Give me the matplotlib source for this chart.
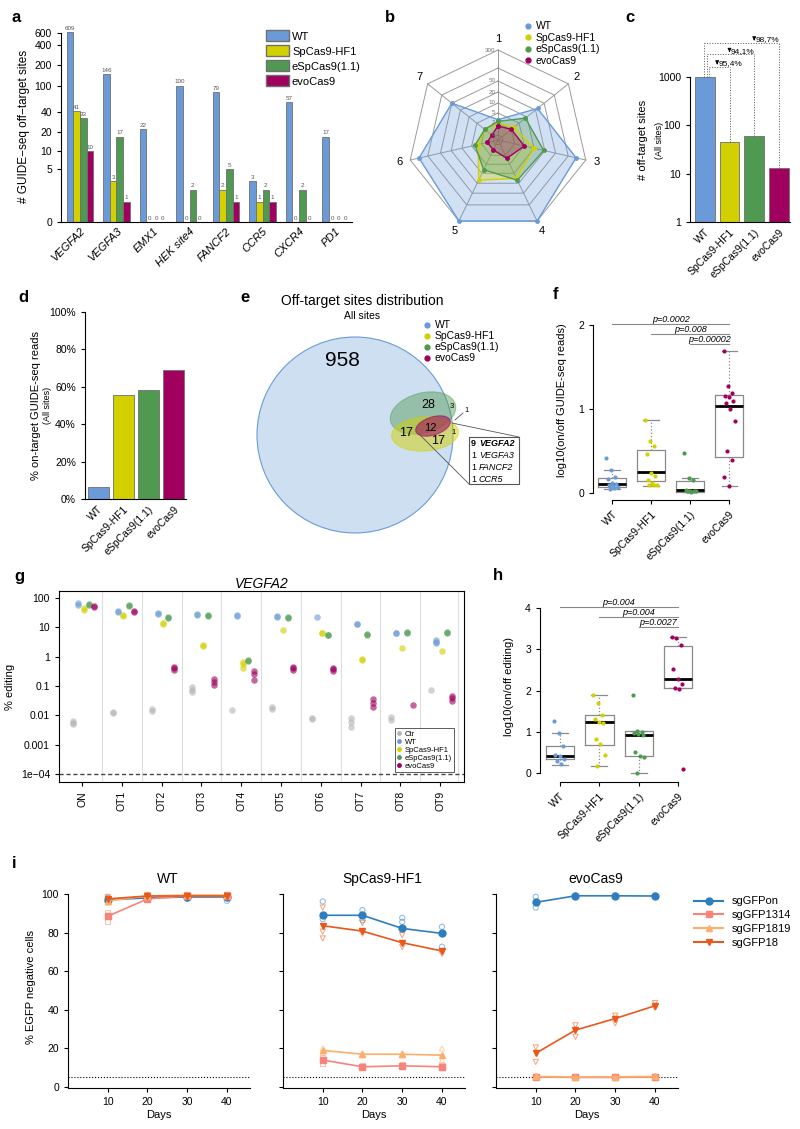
import numpy as np
import matplotlib
matplotlib.use('Agg')
import matplotlib.pyplot as plt
from matplotlib.patches import Ellipse, Circle, Patch, Rectangle
from matplotlib.lines import Line2D
from matplotlib.ticker import NullLocator

plt.rcParams['font.family'] = ['Liberation Sans', 'DejaVu Sans']
plt.rcParams['font.size'] = 7.5
plt.rcParams['axes.linewidth'] = 0.8
plt.rcParams['xtick.major.width'] = 0.8
plt.rcParams['ytick.major.width'] = 0.8
plt.rcParams['xtick.major.size'] = 3
plt.rcParams['ytick.major.size'] = 3

# ---------------- data ----------------
variants = ['WT', 'SpCas9-HF1', 'eSpCas9(1.1)', 'evoCas9']
colors = ['#6a9bd8', '#d2d000', '#4f9a50', '#a0005e']
edge = '#6f6f6f'

# a
targets = ['VEGFA2', 'VEGFA3', 'EMX1', 'HEK site4', 'FANCF2', 'CCR5', 'CXCR4', 'PD1']
a_wt = [609, 146, 22, 100, 79, 3, 57, 17]
a_hf = [41, 3, 0, 0, 2, 1, 0, 0]
a_e = [33, 17, 0, 2, 5, 2, 2, 0]
a_evo = [10, 1, 0, 0, 1, 1, 0, 0]
a_ticks = [0, 5, 10, 20, 40, 100, 200, 400, 600]

# b (radar, 7 mismatch classes)
b_axes = ['1', '2', '3', '4', '5', '6', '7']
b_wt = [3, 27, 190, 300, 300, 200, 50]
b_hf = [2, 3, 10, 15, 17, 3, 2]
b_e = [2.5, 9, 19, 17, 8, 4, 2]
b_evo = [1.5, 2, 5, 3, 1, 1, 0.5]
ring_vals = [0, 2, 5, 10, 20, 50, 100, 300]
ring_lbls = ['0', '2', '5', '10', '20', '50', '', '300']

# c
c_vals = [1000, 46, 59, 13]

# d
d_vals = [6.6, 55.6, 58.3, 69.0]

# e (Venn counts)
e_counts = [958, 28, 3, 1, 17, 12, 17, 1]
e_box_n = [9, 1, 1, 1]
e_box_genes = ['VEGFA2', 'VEGFA3', 'FANCF2', 'CCR5']

# f
f_pts = [
    [0.42, 0.27, 0.19, 0.17, 0.12, 0.11, 0.1, 0.08, 0.07, 0.05, 0.06],
    [0.87, 0.62, 0.56, 0.46, 0.24, 0.2, 0.15, 0.12, 0.1, 0.09, 0.09],
    [0.48, 0.18, 0.16, 0.04, 0.03, 0.02, 0.02, 0.01, 0.03, 0.02],
    [1.69, 1.27, 1.19, 1.16, 1.14, 1.1, 1.07, 1.0, 0.86, 0.5, 0.39, 0.19, 0.08],
]
f_q1 = [0.07, 0.14, 0.01, 0.43]
f_med = [0.105, 0.25, 0.04, 1.04]
f_q3 = [0.18, 0.51, 0.14, 1.17]
f_lo = [0.05, 0.08, 0.01, 0.08]
f_hi = [0.27, 0.87, 0.18, 1.69]
f_pvals = ['p=0.0002', 'p=0.008', 'p=0.00002']
f_plevels = [2.01, 1.89, 1.77]

# g
g_sites = ['ON', 'OT1', 'OT2', 'OT3', 'OT4', 'OT5', 'OT6', 'OT7', 'OT8', 'OT9']
g_labels = ['Ctr', 'WT', 'SpCas9-HF1', 'eSpCas9(1.1)', 'evoCas9']
g_ctr = [[0.0065, 0.0055, 0.005], [0.013, 0.012], [0.016, 0.014], [0.09, 0.075, 0.065], [0.015],
         [0.019, 0.017], [0.008, 0.0075], [0.008, 0.006, 0.004], [0.009, 0.007], [0.072]]
g_wt = [[65, 60], [37, 34], [31, 29], [29, 26], [26, 25], [25, 23], [22], [13.5, 13], [6.6, 6.4], [3.8, 3.2, 2.9]]
g_hf = [[45, 40], [27, 25], [14, 13], [2.6, 2.3], [0.65, 0.55, 0.4], [8.3], [6.5, 6.2], [0.85, 0.8], [2.0], [1.6]]
g_e = [[62, 60], [57, 55], [22, 21], [26, 25], [0.75, 0.7], [22, 21], [5.7, 5.4], [5.8, 5.4], [7, 6.6], [6.8, 6.4]]
g_evo = [[52, 48], [35, 33], [0.45, 0.4, 0.35], [0.17, 0.14, 0.11], [0.32, 0.25, 0.16], [0.45, 0.42, 0.36],
         [0.42, 0.37, 0.32], [0.036, 0.027, 0.019], [0.023], [0.045, 0.038, 0.032]]

# h
h_pts = [
    [1.27, 0.98, 0.65, 0.44, 0.4, 0.34, 0.29, 0.22],
    [1.89, 1.69, 1.4, 1.32, 1.23, 1.2, 0.82, 0.7, 0.44, 0.17],
    [1.9, 1.02, 1.0, 0.97, 0.95, 0.92, 0.5, 0.42, 0.38, 0.0],
    [3.3, 3.28, 3.11, 2.53, 2.29, 2.15, 2.05, 2.04, 0.1],
]
h_q1 = [0.34, 0.68, 0.42, 2.05]
h_med = [0.41, 1.23, 0.92, 2.29]
h_q3 = [0.65, 1.4, 1.02, 3.09]
h_lo = [0.2, 0.17, 0.0, 2.05]
h_hi = [0.98, 1.89, 1.02, 3.3]
h_pvals = ['p=0.004', 'p=0.004', 'p=0.0027']
h_plevels = [4.03, 3.78, 3.54]

# i
days = [10, 20, 30, 40]
guides = ['sgGFPon', 'sgGFP1314', 'sgGFP1819', 'sgGFP18']
g_colors = ['#2e7ebf', '#f7847b', '#fdae6b', '#e8581a']
g_markers = ['o', 's', '^', 'v']
i_titles = ['WT', 'SpCas9-HF1', 'evoCas9']
i_wt = [[97, 98, 98.5, 98.5], [88.5, 97.5, 99, 99], [96.5, 99, 99.5, 99.5], [97.5, 99, 99, 99]]
i_hf = [[89, 89, 82.2, 79.6], [14, 10.5, 11, 10.5], [19, 17, 17, 16.5], [83.6, 80.8, 74.8, 70.5]]
i_evo = [[95.7, 99.1, 99.1, 99], [5.2, 5, 5, 5.2], [5.5, 5.2, 5.3, 5.5], [17.5, 29.5, 35.5, 42.1]]
i_wt_rep = [[[98, 96], [99, 97.5], [98.5, 97.5], [99, 96.5]],
            [[90.5, 86], [97, 98], [99, 98.5], [99.5, 98.5]],
            [[97.5, 95.5], [99.5, 98.5], [99.5, 99], [99.5, 99]],
            [[98.5, 96.5], [99.5, 98.5], [99.5, 98.5], [99.5, 98.5]]]
i_hf_rep = [[[96.2, 87], [91.7, 86.5], [87.7, 85.6], [83, 72.7]],
            [[15.5, 12.5], [11, 10], [11.5, 10.5], [11, 10]],
            [[20, 18], [17.5, 16.5], [17.5, 16.5], [20, 14]],
            [[93, 80.5, 77], [85, 79.5], [78.7, 72.5], [70, 69]]]
i_evo_rep = [[[98.6, 93], [99.3, 98.8], [99.3, 98.9], [99.2, 98.8]],
             [[5.6, 4.8], [5.3, 4.8], [5.3, 4.8], [5.6, 4.9]],
             [[5.9, 5.1], [5.5, 5.0], [5.6, 5.0], [5.8, 5.2]],
             [[20.5, 13], [32, 26], [37, 33], [43.5, 41]]]

# ---------------- figure ----------------
W, H = 800, 1129
fig = plt.figure(figsize=(W / 100, H / 100), dpi=100)


def ax_px(l, t, r, b):
    return fig.add_axes([l / W, 1 - b / H, (r - l) / W, (b - t) / H])


def letter(x, y, s):
    fig.text(x / W, 1 - y / H, s, fontsize=12, fontweight='bold', ha='left', va='center')


def ftext(x, y, s, **kw):
    fig.text(x / W, 1 - y / H, s, **kw)


def r_style(ax, left=True, bottom=True):
    ax.spines['top'].set_visible(False)
    ax.spines['right'].set_visible(False)
    if not left:
        ax.spines['left'].set_visible(False)
    if not bottom:
        ax.spines['bottom'].set_visible(False)


def rot_labels(ax, labels, italic=False, size=7.5):
    ax.set_xticks(range(len(labels)))
    ax.set_xticklabels(labels, rotation=45, ha='right', rotation_mode='anchor',
                       fontstyle='italic' if italic else 'normal', fontsize=size)


# ---- a ----
ax = ax_px(61, 30, 352, 222)
ax.set_yscale('function', functions=(lambda v: np.log10(np.maximum(v, 0) + 1), lambda y: 10 ** y - 1))
x = np.arange(len(targets))
bw = 0.182
for j, vals in enumerate([a_wt, a_hf, a_e, a_evo]):
    xs = x + (j - 1.5) * bw
    ax.bar(xs, vals, width=bw, color=colors[j], edgecolor=edge, linewidth=0.6)
    for xi, v in zip(xs, vals):
        ax.annotate(str(v), (xi, v), xytext=(0, 0.8), textcoords='offset points',
                    ha='center', va='bottom', fontsize=4.5, color='#555555')
ax.set_ylim(0, 660)
ax.set_xlim(-0.52, 7.45)
ax.set_yticks(a_ticks)
ax.set_yticklabels([str(t) for t in a_ticks])
ax.yaxis.set_minor_locator(NullLocator())
r_style(ax)
ax.spines['left'].set_bounds(0, 600)
ax.set_xticks(x)
ax.set_xticklabels(targets, rotation=45, ha='right', rotation_mode='anchor', fontstyle='italic', fontsize=8)
ax.tick_params(axis='x', length=0, pad=3)
ax.set_ylabel('# GUIDE\u2212seq off\u2212target sites', fontsize=8.5, labelpad=3)
fig.legend([Patch(facecolor=c, edgecolor=edge) for c in colors], variants,
           loc='upper left', bbox_to_anchor=(262 / W, 1 - 26 / H), frameon=False, fontsize=8,
           handlelength=2.0, handleheight=1.1, handletextpad=0.3, labelspacing=0.35, borderaxespad=0)
letter(12, 17, 'a')

# ---- b ----
ax = ax_px(378, 20, 618, 260)
ax.set_xlim(-1.2, 1.2)
ax.set_ylim(-1.2, 1.2)
ax.axis('off')
ring_r = [0.05, 0.17, 0.27, 0.37, 0.48, 0.59, 0.72, 0.9]
th = np.arange(len(b_axes)) * 2 * np.pi / len(b_axes)
thc = np.append(th, th[0])
for r in ring_r:
    ax.plot(r * np.sin(thc), r * np.cos(thc), color='#9a9a9a', lw=0.7, zorder=1)
for t in th:
    ax.plot([0, ring_r[-1] * np.sin(t)], [0, ring_r[-1] * np.cos(t)], color='#9a9a9a', lw=0.7, zorder=1)
for j, vals in enumerate([b_wt, b_hf, b_e, b_evo]):
    rr = np.interp(vals, ring_vals, ring_r)
    rr = np.append(rr, rr[0])
    ax.fill(rr * np.sin(thc), rr * np.cos(thc), color=colors[j], alpha=0.3, lw=0, zorder=2 + j)
    ax.plot(rr * np.sin(thc), rr * np.cos(thc), color=colors[j], lw=1.0, marker='o', ms=2.5, zorder=6 + j)
for k, t in enumerate(th):
    ax.text(1.01 * np.sin(t), 1.01 * np.cos(t), b_axes[k], ha='center', va='center', fontsize=8)
for r, lb in zip(ring_r, ring_lbls):
    ax.text(-0.025, r, lb, ha='right', va='center', fontsize=4.5, color='#777777', zorder=10)
fig.legend([Line2D([], [], marker='o', ls='', color=c, ms=3.5) for c in colors], variants,
           loc='upper left', bbox_to_anchor=(520 / W, 1 - 17 / H), frameon=False, fontsize=7.5,
           handlelength=0.7, handletextpad=0.4, labelspacing=0.15, borderaxespad=0)
letter(385, 17, 'b')

# ---- c ----
ax = ax_px(690, 35, 790, 222)
ax.set_yscale('log')
ax.bar(range(4), c_vals, width=0.8, color=colors, edgecolor=edge, linewidth=0.6)
ax.set_ylim(1, 7430)
ax.set_xlim(-0.6, 3.45)
ax.set_yticks([1, 10, 100, 1000])
ax.set_yticklabels(['1', '10', '100', '1000'])
ax.yaxis.set_minor_locator(NullLocator())
r_style(ax)
ax.spines['left'].set_bounds(1, 1000)
rot_labels(ax, variants)
ax.tick_params(axis='x', length=0)
br_y = [1640, 2960, 5140]
br_x0 = [0.18, 0.1, -0.03]
arr_x = [0.5, 1.0, 2.0]
for k in range(1, 4):
    yb, x0, xa = br_y[k - 1], br_x0[k - 1], arr_x[k - 1]
    kw = dict(color='#555555', lw=0.7, ls=':')
    ax.plot([x0, x0], [c_vals[0], yb], **kw)
    ax.plot([k, k], [c_vals[k], yb], **kw)
    ax.plot([x0, k], [yb, yb], **kw)
    pct = (1 - c_vals[k] / c_vals[0]) * 100
    ax.annotate('', xy=(xa, yb * 0.97), xytext=(xa, yb * 1.35),
                arrowprops=dict(arrowstyle='-|>', color='black', lw=0.7, mutation_scale=5))
    ax.text(xa + 0.06, yb * 1.16, ('%.1f%%' % pct).replace('.', ','), fontsize=6, va='center', ha='left')
ftext(643, 140, '# off-target sites', rotation=90, ha='center', va='center', fontsize=8)
ftext(660, 140, '(All sites)', rotation=90, ha='center', va='center', fontsize=6.5)
letter(625, 18, 'c')

# ---- d ----
ax = ax_px(85, 300, 186, 499)
ax.bar(range(4), d_vals, width=0.84, color=colors, edgecolor=edge, linewidth=0.6)
ax.set_ylim(0, 106.4)
ax.set_xlim(-0.52, 3.5)
ax.set_yticks(range(0, 101, 20))
ax.set_yticklabels(['%d%%' % v for v in range(0, 101, 20)])
r_style(ax)
ax.spines['left'].set_bounds(0, 100)
rot_labels(ax, variants)
ax.tick_params(axis='x', length=0)
ftext(36, 405, '% on-target GUIDE-seq reads', rotation=90, ha='center', va='center', fontsize=8)
ftext(48, 405, '(All sites)', rotation=90, ha='center', va='center', fontsize=6.5)
letter(18, 298, 'd')

# ---- e ----
ax = ax_px(230, 320, 530, 545)
ax.set_xlim(230, 530)
ax.set_ylim(545, 320)
ax.axis('off')
ax.add_patch(Circle((355, 435), 98, facecolor='#cfdff2', edgecolor='#6a9bd8', lw=0.8))
ax.add_patch(Ellipse((423, 413), 67, 40, angle=-15, facecolor=colors[2], alpha=0.45,
                     edgecolor=colors[2], lw=0.8))
ax.add_patch(Ellipse((425, 434), 67, 34, angle=-4, facecolor=colors[1], alpha=0.5,
                     edgecolor=colors[1], lw=0.8))
ax.add_patch(Ellipse((433, 426), 36, 18, angle=-18, facecolor=colors[3], alpha=0.55,
                     edgecolor=colors[3], lw=0.8))
e_pos = [(342, 360), (428, 405), (452, 406), (467, 411), (406, 433), (430, 428), (438, 441), (454, 433)]
e_size = [15, 9, 5.5, 5.5, 9, 8, 9, 5.5]
for n, (px, py), fs in zip(e_counts, e_pos, e_size):
    ax.text(px, py, str(n), ha='center', va='center', fontsize=fs)
ax.plot([455, 463], [420, 413], color='#555555', lw=0.6)
ax.plot([452, 519], [423, 437], color='#555555', lw=0.6)
ax.plot([419, 469], [434, 484], color='#555555', lw=0.6)
ax.add_patch(Rectangle((469, 437), 50, 47, facecolor='white', edgecolor='#555555', lw=0.8))
for k, (n, gname) in enumerate(zip(e_box_n, e_box_genes)):
    yy = 443 + k * 12
    wt = 'bold' if k == 0 else 'normal'
    ax.text(471, yy, str(n), fontsize=6.5, va='center', ha='left', fontweight=wt)
    ax.text(479, yy, gname, fontsize=6.5, va='center', ha='left', fontweight=wt, fontstyle='italic')
ftext(362, 301, 'Off-target sites distribution', ha='center', va='center', fontsize=10)
ftext(362, 316, 'All sites', ha='center', va='center', fontsize=7.5)
fig.legend([Line2D([], [], marker='o', ls='', color=c, ms=3.5) for c in colors], variants,
           loc='upper left', bbox_to_anchor=(419 / W, 1 - 316 / H), frameon=False, fontsize=7.5,
           handlelength=0.7, handletextpad=0.4, labelspacing=0.1, borderaxespad=0)
letter(240, 297, 'e')


def box_panel(ax, pts, q1, med, q3, lo, hi):
    stats = [dict(med=med[i], q1=q1[i], q3=q3[i], whislo=lo[i], whishi=hi[i], fliers=[])
             for i in range(4)]
    ax.bxp(stats, positions=range(4), widths=0.72, showfliers=False, capwidths=0.4,
           boxprops=dict(color='#8a8a8a', lw=0.9), medianprops=dict(color='black', lw=2),
           whiskerprops=dict(color='#8a8a8a', lw=0.9, ls=':'), capprops=dict(color='#8a8a8a', lw=0.9))
    for i, p in enumerate(pts):
        off = ((np.arange(len(p)) * 0.37) % 1 - 0.5) * 0.3
        ax.scatter(i + off, p, s=9, color=colors[i], zorder=5, linewidths=0)


def pbars(ax, levels, labels, top=3):
    for k, (lv, lb) in enumerate(zip(levels, labels)):
        ax.plot([k, top], [lv, lv], color='#888888', lw=0.8)
        ax.text((k + top) / 2, lv, lb, ha='center', va='bottom', fontsize=6.5, fontstyle='italic')


# ---- f ----
ax = ax_px(593, 300, 745, 500)
box_panel(ax, f_pts, f_q1, f_med, f_q3, f_lo, f_hi)
pbars(ax, f_plevels, f_pvals)
ax.set_ylim(-0.083, 2.3)
ax.set_xlim(-0.49, 3.4)
ax.set_yticks([0, 1, 2])
r_style(ax)
ax.spines['left'].set_bounds(0, 2)
ax.spines['bottom'].set_bounds(0, 3)
rot_labels(ax, variants)
ax.set_ylabel('log10(on/off GUIDE-seq reads)', fontsize=8, labelpad=8)
letter(553, 295, 'f')

# ---- g ----
ax = ax_px(59, 591, 464, 782)
ax.set_yscale('log')
offs = [-0.23, -0.1, 0.04, 0.17, 0.31]
gcols = ['#b5b5b5'] + colors
for i in range(len(g_sites) - 1):
    ax.axvline(i + 0.5, color='#dddddd', lw=0.8, zorder=0)
ax.axvline(9.45, color='#dddddd', lw=0.8, zorder=0)
for j, series in enumerate([g_ctr, g_wt, g_hf, g_e, g_evo]):
    for i, reps in enumerate(series):
        ax.scatter([i + offs[j]] * len(reps), reps, s=22, color=gcols[j], alpha=0.6, linewidths=0, zorder=3)
ax.axhline(1e-4, color='#444444', lw=1, ls='--', dashes=(3, 2))
ax.set_ylim(5.4e-5, 173)
ax.set_xlim(-0.58, 9.6)
yt = [1e-4, 1e-3, 1e-2, 0.1, 1, 10, 100]
ax.set_yticks(yt)
ax.set_yticklabels(['1e\u221204', '0.001', '0.01', '0.1', '1', '10', '100'])
ax.yaxis.set_minor_locator(NullLocator())
ax.set_xticks(range(len(g_sites)))
ax.set_xticklabels(g_sites, rotation=90)
ax.set_ylabel('% editing', fontsize=8)
ax.set_title('VEGFA2', fontstyle='italic', fontsize=10, pad=2)
leg = ax.legend([Line2D([], [], marker='o', ls='', color=c, ms=2.5) for c in gcols], g_labels,
                loc='lower right', bbox_to_anchor=(0.985, 0.03), fontsize=5.5, frameon=True, fancybox=False,
                handlelength=0.6, handletextpad=0.4, labelspacing=0.1, borderpad=0.3)
leg.get_frame().set_edgecolor('#333333')
leg.get_frame().set_linewidth(0.7)
letter(14, 577, 'g')

# ---- h ----
ax = ax_px(540, 590, 700, 782)
box_panel(ax, h_pts, h_q1, h_med, h_q3, h_lo, h_hi)
pbars(ax, h_plevels, h_pvals)
ax.set_ylim(-0.22, 4.44)
ax.set_xlim(-0.51, 3.56)
ax.set_yticks(range(5))
r_style(ax)
ax.spines['left'].set_bounds(0, 4)
ax.spines['bottom'].set_bounds(0, 3)
rot_labels(ax, variants)
ax.set_ylabel('log10(on/off editing)', fontsize=8, labelpad=8)
letter(493, 575, 'h')

# ---- i ----
lefts = [68, 283, 496]
for p, (data, reps, title) in enumerate(zip([i_wt, i_hf, i_evo], [i_wt_rep, i_hf_rep, i_evo_rep], i_titles)):
    ax = ax_px(lefts[p], 885, lefts[p] + 182, 1088)
    ax.axhline(5, color='black', lw=0.8, ls=':')
    for g in range(4):
        for d, rv in zip(days, reps[g]):
            ax.scatter([d] * len(rv), rv, s=14, marker=g_markers[g], facecolors='none',
                       edgecolors=g_colors[g], alpha=0.5, linewidths=0.8, zorder=3)
        ax.plot(days, data[g], color=g_colors[g], marker=g_markers[g], ms=5, lw=1.2, zorder=4)
    ax.set_xlim(0, 45.8)
    ax.set_ylim(-0.5, 104.7)
    ax.set_xticks(days)
    ax.set_yticks(range(0, 101, 20))
    r_style(ax)
    ax.spines['left'].set_bounds(0, 100)
    if p > 0:
        ax.set_yticklabels([])
    else:
        ax.set_ylabel('% EGFP negative cells', fontsize=8)
    ax.set_xlabel('Days', fontsize=8, labelpad=2)
    ax.text(25, 108, title, ha='center', va='center', fontsize=10)
fig.legend([Line2D([], [], color=c, marker=m, lw=1.5, ms=5) for c, m in zip(g_colors, g_markers)], guides,
           loc='upper left', bbox_to_anchor=(690 / W, 1 - 892 / H), frameon=False, fontsize=8,
           handlelength=2.6, handletextpad=0.8, labelspacing=0.35, borderaxespad=0)
letter(12, 864, 'i')

fig.savefig('out.png', dpi=100)
